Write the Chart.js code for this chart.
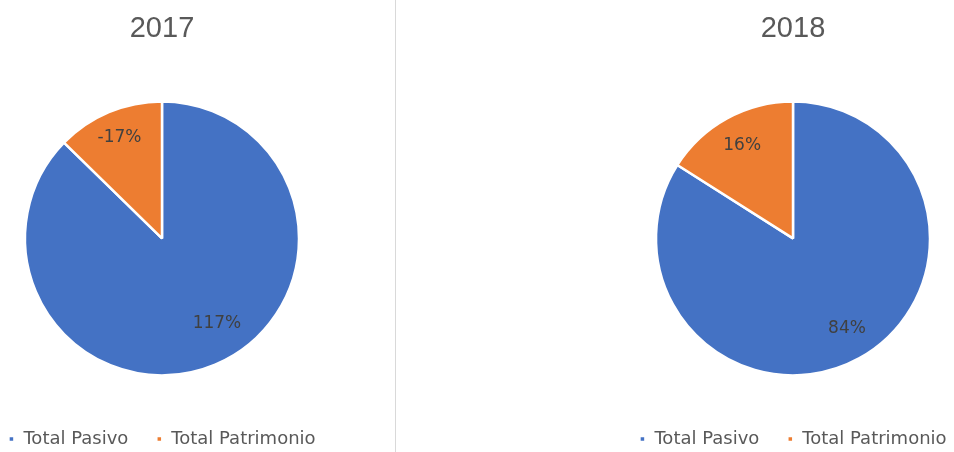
<!DOCTYPE html>
<html>
<head>
<meta charset="utf-8">
<script src="https://cdn.jsdelivr.net/npm/chart.js@4.4.0/dist/chart.umd.min.js"></script>
<style>
  html, body { margin: 0; padding: 0; background: #ffffff; overflow: hidden; width: 954px; height: 452px; }
  .box { position: absolute; top: 0; width: 400px; height: 458px; }
  #sep { position: absolute; left: 395px; top: 0; width: 1px; height: 452px; background: #d9d9d9; }
</style>
</head>
<body>
<div class="box" style="left:-38px"><canvas id="c1" width="400" height="458"></canvas></div>
<div id="sep"></div>
<div class="box" style="left:593px"><canvas id="c2" width="400" height="458"></canvas></div>
<script>
const categories = ['Total Pasivo', 'Total Patrimonio'];
const titles = ['2017', '2018'];
const values2017 = [117, -17];
const values2018 = [84, 16];
const colors = ['#4472C4', '#ED7D31'];

const labelPlugin = {
  id: 'sliceLabels',
  afterDatasetsDraw(chart, args, opts) {
    const ctx = chart.ctx;
    const meta = chart.getDatasetMeta(0);
    const data = chart.data.datasets[0].data;
    ctx.save();
    ctx.font = '17px "DejaVu Sans"';
    ctx.fillStyle = '#404040';
    ctx.textAlign = 'center';
    ctx.textBaseline = 'middle';
    meta.data.forEach((arc, i) => {
      const p = arc.getProps(['x', 'y', 'startAngle', 'endAngle', 'outerRadius'], true);
      const mid = (p.startAngle + p.endAngle) / 2 + (opts.shift[i] || 0) * Math.PI / 180;
      const r = p.outerRadius * opts.radius[i];
      ctx.fillText(data[i] + '%', p.x + Math.cos(mid) * r, p.y + Math.sin(mid) * r);
    });
    ctx.restore();
  }
};

function makeChart(id, title, values, labelOpts) {
  return new Chart(document.getElementById(id), {
    type: 'pie',
    data: {
      labels: categories,
      datasets: [{
        data: values,
        backgroundColor: colors,
        borderColor: '#ffffff',
        borderWidth: 2.5,
        radius: 137
      }]
    },
    options: {
      responsive: false,
      animation: false,
      devicePixelRatio: 1,
      layout: { padding: 0 },
      plugins: {
        title: {
          display: true,
          text: title,
          color: '#595959',
          font: { family: '"Liberation Sans", Arial, sans-serif', size: 29, weight: 'normal' },
          padding: { top: 12, bottom: 28 }
        },
        legend: {
          position: 'bottom',
          labels: {
            color: '#595959',
            font: { family: '"DejaVu Sans"', size: 18 },
            boxWidth: 6,
            boxHeight: 6,
            padding: 28
          }
        },
        tooltip: { enabled: false },
        sliceLabels: labelOpts
      }
    },
    plugins: [labelPlugin]
  });
}

makeChart('c1', titles[0], values2017, { radius: [0.74, 0.80], shift: [-10, 0] });
makeChart('c2', titles[1], values2018, { radius: [0.77, 0.77], shift: [-2, 0] });
</script>
</body>
</html>
